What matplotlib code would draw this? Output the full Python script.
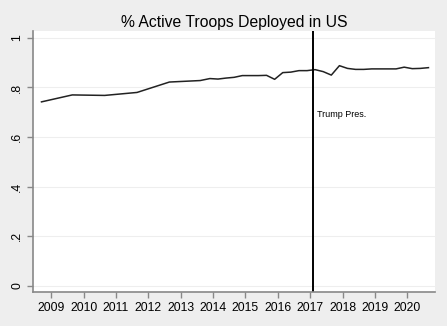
import numpy as np
import matplotlib.pyplot as plt

plt.rcParams['font.family'] = ['Liberation Sans', 'DejaVu Sans']

# share of active-duty troops stationed in the US
years = [2008.7, 2009.65, 2010.65, 2011.65, 2012.65, 2013.6, 2013.9, 2014.15,
         2014.4, 2014.65, 2014.9, 2015.15, 2015.4, 2015.65, 2015.9, 2016.15,
         2016.4, 2016.65, 2016.9, 2017.15, 2017.4, 2017.65, 2017.9, 2018.15,
         2018.4, 2018.65, 2018.9, 2019.15, 2019.4, 2019.65, 2019.9, 2020.15,
         2020.4, 2020.65]
share = [0.742, 0.770, 0.768, 0.780, 0.822, 0.828, 0.836, 0.834,
         0.838, 0.841, 0.848, 0.848, 0.848, 0.849, 0.833, 0.860,
         0.862, 0.868, 0.868, 0.872, 0.864, 0.850, 0.888, 0.877,
         0.873, 0.873, 0.875, 0.875, 0.875, 0.875, 0.882, 0.876,
         0.877, 0.880]
trump_start = 2017.07
xticks = list(range(2009, 2021))
yticks = [0, 0.2, 0.4, 0.6, 0.8, 1.0]
ytick_labels = ["0", ".2", ".4", ".6", ".8", "1"]

fig = plt.figure(figsize=(4.47, 3.26), dpi=100, facecolor="#eeeeee")
ax = fig.add_axes([0.074, 0.104, 0.899, 0.801])
ax.set_facecolor("white")

for y in yticks:
    ax.axhline(y, color="#eeeeee", lw=0.8, zorder=0)

ax.plot(years, share, color="#222222", lw=1.1)
ax.axvline(trump_start, color="black", lw=1.4)
ax.text(trump_start + 0.15, 0.69, "Trump Pres.", fontsize=6.5, va="center")

ax.set_xlim(2008.44, 2020.85)
ax.set_ylim(-0.0254, 1.028)
ax.set_xticks(xticks)
ax.set_xticklabels([str(x) for x in xticks], fontsize=8.8)
ax.set_yticks(yticks)
ax.set_yticklabels(ytick_labels, fontsize=8.8, rotation=90, va="center")

for s in ["top", "right"]:
    ax.spines[s].set_visible(False)
for s in ["left", "bottom"]:
    ax.spines[s].set_color("#888888")
    ax.spines[s].set_linewidth(1.2)
ax.tick_params(color="#888888", length=4, width=1, pad=3)

ax.set_title("% Active Troops Deployed in US", fontsize=11.3, pad=3)

fig.savefig("out.png", dpi=100, facecolor=fig.get_facecolor())
